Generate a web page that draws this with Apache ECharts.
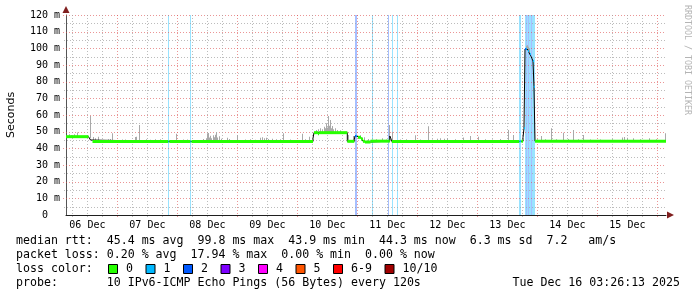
<!DOCTYPE html>
<html><head><meta charset="utf-8">
<script src="https://cdn.jsdelivr.net/npm/echarts@6/dist/echarts.min.js"></script>
<style>html,body{margin:0;padding:0;background:#fff}#c{width:697px;height:297px}</style>
</head><body><div id="c"></div>
<script>
const startTime = '2025-12-06 03:26:13';
const endTime = '2025-12-16 03:26:13';

// median rtt (ms) change points, with loss class (null = no colour)
const medianTimes = ['2025-12-06 03:26','2025-12-06 12:26','2025-12-06 13:14','2025-12-06 14:02',
 '2025-12-07 20:22','2025-12-07 20:46','2025-12-08 05:14','2025-12-08 05:38',
 '2025-12-10 06:14','2025-12-10 06:38','2025-12-10 08:14','2025-12-10 08:38','2025-12-10 19:58',
 '2025-12-10 22:46','2025-12-10 23:02','2025-12-10 23:26','2025-12-10 23:50','2025-12-11 00:14',
 '2025-12-11 01:26','2025-12-11 02:14','2025-12-11 03:02','2025-12-11 05:14',
 '2025-12-11 12:58','2025-12-11 13:22','2025-12-11 13:46',
 '2025-12-13 16:46','2025-12-13 17:34','2025-12-13 18:14','2025-12-13 18:38','2025-12-13 19:02',
 '2025-12-13 19:26','2025-12-13 19:50','2025-12-13 20:14','2025-12-13 20:38','2025-12-13 21:02',
 '2025-12-13 21:26','2025-12-13 21:50','2025-12-13 22:14','2025-12-13 22:38','2025-12-13 23:02'];
const medianValues = [47.0,46.0,45.0,44.1,
 44.1,44.1,44.1,44.1,
 46.0,49.4,48.8,49.4,44.2,
 45.5,47.4,47.6,47.0,46.6,
 45.6,44.2,43.8,44.3,
 47.4,46.0,44.1,
 44.2,44.2,46.5,52.0,99.6,
 99.8,99.2,98.4,97.4,96.4,
 95.2,93.8,92.4,77.0,44.3];
const medianLoss = [0,null,null,0,
 1,0,1,0,
 null,0,0,0,0,
 null,2,1,null,0,
 0,0,0,0,
 null,null,0,
 1,0,null,1,2,
 1,null,1,null,1,
 null,null,1,1,0];

// smoke (ping spread) tops in ms
const smokeTimes = ['2025-12-06 04:38','2025-12-06 05:26','2025-12-06 06:38','2025-12-06 07:50','2025-12-06 13:02',
 '2025-12-06 14:14','2025-12-06 15:02','2025-12-06 16:14','2025-12-06 20:14','2025-12-06 21:02','2025-12-06 21:50',
 '2025-12-07 01:50','2025-12-07 03:02','2025-12-07 07:02','2025-12-07 07:26','2025-12-07 08:38','2025-12-07 11:26',
 '2025-12-07 13:02','2025-12-07 15:02','2025-12-07 17:02','2025-12-07 23:26',
 '2025-12-08 02:14','2025-12-08 03:50','2025-12-08 10:14','2025-12-08 11:26','2025-12-08 11:50','2025-12-08 12:14',
 '2025-12-08 12:38','2025-12-08 13:02','2025-12-08 13:26','2025-12-08 14:14','2025-12-08 14:38','2025-12-08 15:02',
 '2025-12-08 15:26','2025-12-08 15:50','2025-12-08 16:38','2025-12-08 17:26','2025-12-08 19:50','2025-12-08 20:38',
 '2025-12-08 23:43',
 '2025-12-09 03:02','2025-12-09 05:02','2025-12-09 07:02','2025-12-09 09:02','2025-12-09 09:50','2025-12-09 10:38',
 '2025-12-09 11:26','2025-12-09 12:14','2025-12-09 13:50','2025-12-09 15:26','2025-12-09 17:02','2025-12-09 18:14',
 '2025-12-09 21:02',
 '2025-12-10 01:43','2025-12-10 03:02','2025-12-10 04:38','2025-12-10 07:26','2025-12-10 08:14','2025-12-10 09:02',
 '2025-12-10 09:50','2025-12-10 10:38','2025-12-10 11:02','2025-12-10 11:26','2025-12-10 11:50','2025-12-10 12:14',
 '2025-12-10 12:38','2025-12-10 13:02','2025-12-10 13:26','2025-12-10 13:50','2025-12-10 14:14','2025-12-10 15:02',
 '2025-12-10 15:50','2025-12-10 17:02','2025-12-10 20:14','2025-12-10 22:14',
 '2025-12-11 01:02','2025-12-11 02:38','2025-12-11 04:14','2025-12-11 07:26','2025-12-11 09:43','2025-12-11 11:26',
 '2025-12-11 12:46','2025-12-11 13:50','2025-12-11 17:02','2025-12-11 19:26','2025-12-11 23:02',
 '2025-12-12 01:02','2025-12-12 04:22','2025-12-12 05:50','2025-12-12 07:50','2025-12-12 09:02','2025-12-12 10:38',
 '2025-12-12 11:50','2025-12-12 15:02','2025-12-12 18:14','2025-12-12 21:02',
 '2025-12-13 00:22','2025-12-13 03:02','2025-12-13 05:50','2025-12-13 09:02','2025-12-13 12:22','2025-12-13 14:14',
 '2025-12-13 19:26','2025-12-13 19:50','2025-12-13 20:14','2025-12-13 20:38','2025-12-13 23:50',
 '2025-12-14 01:34','2025-12-14 03:02','2025-12-14 05:26','2025-12-14 07:26','2025-12-14 10:22','2025-12-14 12:14',
 '2025-12-14 14:22','2025-12-14 16:14','2025-12-14 18:22','2025-12-14 21:02',
 '2025-12-15 01:02','2025-12-15 05:50','2025-12-15 09:50','2025-12-15 10:38','2025-12-15 11:50','2025-12-15 14:14',
 '2025-12-15 17:02','2025-12-15 20:38','2025-12-15 23:26','2025-12-16 03:02'];
const smokeTops = [48.4,48.0,48.5,49.5,59.4,
 46.8,46.0,47.0,45.4,45.6,49.0,
 45.3,45.3,46.8,47.0,54.0,45.4,
 45.2,45.4,45.5,48.8,
 45.3,45.3,45.6,46.0,49.0,49.2,
 46.5,47.5,46.0,47.8,46.6,48.2,
 49.8,46.5,47.2,45.8,46.3,45.6,
 48.0,
 45.3,45.5,45.2,46.3,46.6,46.0,
 46.3,45.6,45.8,45.4,45.5,49.0,
 45.3,
 48.8,45.4,47.0,51.0,51.5,52.0,
 51.5,53.0,52.0,55.0,52.5,59.4,
 53.5,57.0,52.0,53.4,51.5,52.0,
 51.0,50.8,48.0,47.4,
 47.8,46.6,45.6,45.4,46.0,45.3,
 54.0,50.0,45.3,45.5,47.8,
 45.3,53.2,45.3,45.8,46.0,45.8,
 46.0,45.4,46.5,47.4,
 47.0,45.4,45.3,45.6,51.0,48.0,
 101.5,101.8,101.0,100.0,45.5,
 47.4,45.4,52.0,45.5,49.4,45.6,
 51.0,45.4,48.0,45.3,
 45.3,45.4,46.5,46.8,46.3,46.0,
 45.4,46.0,45.4,49.0];

// packet loss periods (loss class per step)
const lossTimes = ['2025-12-07 20:22','2025-12-08 05:14','2025-12-10 23:02','2025-12-10 23:26','2025-12-11 05:58',
 '2025-12-11 12:07','2025-12-11 13:43','2025-12-11 15:43','2025-12-13 16:46','2025-12-13 17:10',
 '2025-12-13 19:02','2025-12-13 19:26','2025-12-13 19:50','2025-12-13 20:14','2025-12-13 20:38',
 '2025-12-13 21:02','2025-12-13 21:26','2025-12-13 21:50','2025-12-13 22:14','2025-12-13 22:38'];
const lossLevels = [1,1,2,2,1, 2,1,1,1,1, 1,2,1,2,1, 1,2,1,1,1];

const dayLabels = ['06 Dec','07 Dec','08 Dec','09 Dec','10 Dec','11 Dec','12 Dec','13 Dec','14 Dec','15 Dec'];
const lossLabels = ['0','1','2','3','4','5','6-9','10/10'];
const lossColors = ['#26ff00','#00b8ff','#0059ff','#7e00ff','#ff00ff','#ff5500','#ff0000','#a00000'];
const lossBgColors = ['#bdffb0','#99e3ff','#a6bfff','#cba6ff','#ffa6ff','#ffbb99','#ff9999','#d99999'];
const legendRows = [
 'median rtt:  45.4 ms avg  99.8 ms max  43.9 ms min  44.3 ms now  6.3 ms sd  7.2   am/s',
 'packet loss: 0.20 % avg  17.94 % max  0.00 % min  0.00 % now',
 'loss color:',
 'probe:       10 IPv6-ICMP Echo Pings (56 Bytes) every 120s'
];
const dateStamp = 'Tue Dec 16 03:26:13 2025';

function T(s){ const [d,t]=s.split(' '); const [Y,M,D]=d.split('-').map(Number); const p=(t+':0').split(':').map(Number); return Date.UTC(Y,M-1,D,p[0],p[1],p[2]||0); }
const STEP = 24*60*1000;
const t0=T(startTime), t1=T(endTime);
const medT = medianTimes.map(T);
function medianAt(t){ let v=medianValues[0]; for(let i=0;i<medT.length;i++){ if(medT[i]<=t) v=medianValues[i]; else break; } return v; }

const MAJOR='rgba(222,79,79,0.6)', MINOR='rgba(160,160,160,0.7)';
const MONO='"DejaVu Sans Mono", monospace';

const vGridData=[]; for(let t=T('2025-12-06 06:00'); t<t1; t+=6*3600e3){ vGridData.push([t,0,new Date(t).getUTCHours()===0?1:0]); }
const hGridData=[]; for(let v=5; v<=120; v+=5) hGridData.push([t0,v,v%10===0?1:0]);
const dayData = dayLabels.map((l,i)=>[T('2025-12-06 12:00')+i*86400e3,0,i]);

const medLineData = medT.map((t,i)=>[t,medianValues[i]]).concat([[t1, medianValues[medianValues.length-1]]]);
const medSegData = [];
medT.forEach((t,i)=>{ if(medianLoss[i]!==null){ medSegData.push([t, medianValues[i], medianLoss[i], i+1<medT.length?medT[i+1]:t1]); } });
const smokeData = smokeTimes.map((s,i)=>{ const t=T(s); return [t, smokeTops[i], medianAt(t)]; });
const lossData = lossTimes.map((s,i)=>[T(s), lossLevels[i]]);

const chart = echarts.init(document.getElementById('c'), null, {renderer:'canvas'});

const graphics = [];
graphics.push({type:'polygon', shape:{points:[[62.5,13],[69.5,13],[66,6]]}, style:{fill:'#801f1f'}, z:100});
graphics.push({type:'polygon', shape:{points:[[667,211.5],[667,218.5],[674,215]]}, style:{fill:'#801f1f'}, z:100});
graphics.push({type:'text', x:11, y:115, rotation:Math.PI/2, style:{text:'Seconds', font:'11px "DejaVu Sans"', fill:'#000', textAlign:'center', textVerticalAlign:'middle', align:'center', verticalAlign:'middle'}});
graphics.push({type:'text', x:687, y:60, rotation:-Math.PI/2, style:{text:'RRDTOOL / TOBI OETIKER', font:'8.3px '+MONO, fill:'#b4b4b4', textAlign:'center', textVerticalAlign:'middle', align:'center', verticalAlign:'middle'}});
const rowY=[241,255,269,283];
legendRows.forEach((r,i)=>{ graphics.push({type:'text', x:16, y:rowY[i], style:{text:r, font:'11.6px '+MONO, fill:'#000', textAlign:'left', textVerticalAlign:'middle', align:'left', verticalAlign:'middle'}}); });
graphics.push({type:'text', x:680, y:rowY[3], style:{text:dateStamp, font:'11.6px '+MONO, fill:'#000', textAlign:'right', textVerticalAlign:'middle', align:'right', verticalAlign:'middle'}});
let sx=108.5;
lossLabels.forEach((l,i)=>{
  graphics.push({type:'rect', shape:{x:sx, y:264.5, width:9, height:9}, style:{fill:lossColors[i], stroke:'#000', lineWidth:1}});
  graphics.push({type:'text', x:sx+17.5, y:rowY[2], style:{text:l, font:'11.6px '+MONO, fill:'#000', textAlign:'left', textVerticalAlign:'middle', align:'left', verticalAlign:'middle'}});
  sx += 18 + 7*l.length + 12.5;
});

chart.setOption({
  animation:false,
  backgroundColor:'#fff',
  grid:{left:66, top:15, width:600, height:200, containLabel:false},
  xAxis:{type:'value', min:t0, max:t1, axisLine:{show:true, lineStyle:{color:'#1f1f1f', width:1}}, axisTick:{show:false}, axisLabel:{show:false}, splitLine:{show:false}},
  yAxis:{type:'value', min:0, max:120, interval:10,
    axisLine:{show:true, lineStyle:{color:'#555', width:1}}, axisTick:{show:false}, splitLine:{show:false},
    axisLabel:{margin:6, fontFamily:'DejaVu Sans Mono', fontSize:10, color:'#000', formatter:v=> v===0 ? '0  ' : v+' m'}},
  graphic:graphics,
  series:[
    {type:'custom', name:'loss', z:1, silent:true, data:lossData, encode:{x:0,y:1},
     renderItem:(p,api)=>{ const cs=p.coordSys; const a=api.coord([api.value(0),0]); const b=api.coord([api.value(0)+STEP,0]);
       return {type:'rect', shape:{x:Math.round(a[0]), y:cs.y, width:Math.max(1,Math.round(b[0]-a[0])), height:cs.height}, style:{fill:lossBgColors[api.value(1)]}}; }},
    {type:'custom', name:'hgrid', z:2, silent:true, clip:false, data:hGridData, encode:{x:0,y:1},
     renderItem:(p,api)=>{ const cs=p.coordSys; const y=Math.round(api.coord([api.value(0),api.value(1)])[1])+0.5; const m=api.value(2);
       return {type:'line', shape:{x1:cs.x-(m?3:2), y1:y, x2:cs.x+cs.width, y2:y}, style:{stroke:m?MAJOR:MINOR, lineWidth:1, lineDash:[1,2]}}; }},
    {type:'custom', name:'vgrid', z:2, silent:true, clip:false, data:vGridData, encode:{x:0,y:1},
     renderItem:(p,api)=>{ const cs=p.coordSys; const x=Math.round(api.coord([api.value(0),0])[0])+0.5; const m=api.value(2);
       return {type:'line', shape:{x1:x, y1:cs.y, x2:x, y2:cs.y+cs.height+(m?3:2)}, style:{stroke:m?MAJOR:MINOR, lineWidth:1, lineDash:[1,2]}}; }},
    {type:'custom', name:'smoke', z:3, silent:true, data:smokeData, encode:{x:0,y:1},
     renderItem:(p,api)=>{ const a=api.coord([api.value(0),api.value(1)]); const b=api.coord([api.value(0),api.value(2)]);
       return {type:'rect', shape:{x:Math.round(a[0]), y:a[1], width:1, height:Math.max(0,b[1]-a[1])}, style:{fill:'#a9a9a9'}}; }},
    {type:'line', name:'median', z:4, silent:true, step:'end', showSymbol:false, data:medLineData, lineStyle:{color:'#000', width:1}},
    {type:'custom', name:'medianLoss', z:5, silent:true, data:medSegData, encode:{x:0,y:1},
     renderItem:(p,api)=>{ const a=api.coord([api.value(0),api.value(1)]); const b=api.coord([api.value(3),api.value(1)]); const l=api.value(2);
       return {type:'line', shape:{x1:a[0], y1:a[1], x2:b[0], y2:b[1]}, style:{stroke:lossColors[l], lineWidth:l===0?3:2}}; }},
    {type:'custom', name:'days', z:5, silent:true, clip:false, data:dayData, encode:{x:0,y:1},
     renderItem:(p,api)=>{ const cs=p.coordSys; const x=api.coord([api.value(0),0])[0];
       return {type:'text', x:x, y:cs.y+cs.height+10, style:{text:dayLabels[api.value(2)], font:'10px '+MONO, fill:'#000', textAlign:'center', textVerticalAlign:'middle', align:'center', verticalAlign:'middle'}}; }}
  ]
});
</script></body></html>
